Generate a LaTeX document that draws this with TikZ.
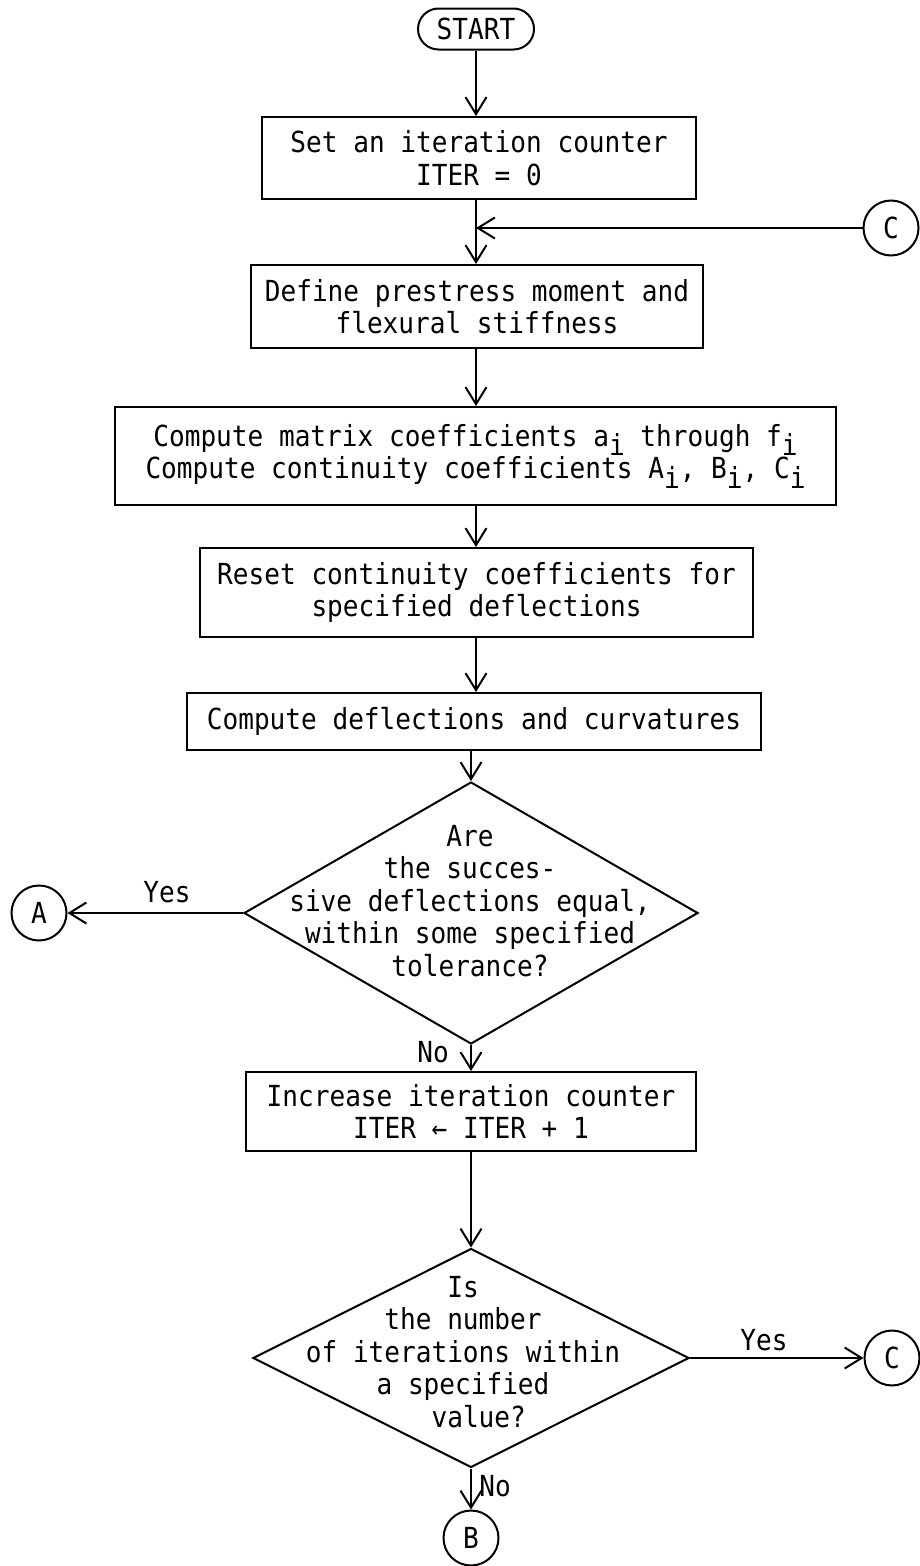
\documentclass[tikz,border=0pt]{standalone}
\usepackage{fontspec}
\setmonofont{DejaVu Sans Mono}[FakeStretch=0.9]
\usetikzlibrary{arrows.meta,shapes.geometric,shapes.misc}
% lowered index letter, typed as on a typewriter
\newcommand\lowi{\raisebox{-0.33em}{i}}
\begin{document}
\begin{tikzpicture}[x=1pt,y=-1pt,
  every node/.style={font={\ttfamily\fontsize{29}{32.4}\selectfont}, inner sep=0pt},
  proc/.style={draw, rectangle, line width=2pt, align=center},
  term/.style={draw, rounded rectangle, line width=2pt, minimum width=116pt, minimum height=41pt},
  decide/.style={draw, diamond, line width=2pt},
  conn/.style={draw, circle, line width=2pt, minimum size=55pt},
  flow/.style={line width=2pt, -{Straight Barb[length=17pt,width=21pt,line width=2pt]}},
]
\useasboundingbox (0,0) rectangle (919,1566);

% vertical guide line of the upper part of the flow
\coordinate (spine) at (476,0);

% ---- boxes ----
\node[term] (start) at (476,29) {START};
\node[proc, minimum width=434pt, minimum height=82pt] (init) at (479,158)
  {Set an iteration counter\\ITER = 0};
\node[conn] (cin) at (891,228) {C};
\node[proc, minimum width=452pt, minimum height=83pt] (prestress) at (477,306.5)
  {Define prestress moment and\\flexural stiffness};
\node[proc, minimum width=721pt, minimum height=98pt] (coef) at (475.5,456)
  {Compute matrix coefficients a\lowi{} through f\lowi\\Compute continuity coefficients A\lowi, B\lowi, C\lowi};
\node[proc, minimum width=553pt, minimum height=89pt] (reset) at (476.5,592.5)
  {Reset continuity coefficients for\\specified deflections};
\node[proc, minimum width=574pt, minimum height=57pt] (defl) at (474,721.5)
  {Compute deflections and curvatures};

% ---- convergence test ----
\node[decide, minimum width=454pt, minimum height=262pt] (conv) at (471,913) {};
\node[align=center] (convq) at (470,901)
  {Are\\the succes-\\sive deflections equal,\\within some specified\\tolerance?};
\node[conn] (ca) at (39,913) {A};
\node (yes1) at (167,892) {Yes};
\node (no1) at (433,1052) {No};

\node[proc, minimum width=450pt, minimum height=79pt] (incr) at (471,1111.5)
  {Increase iteration counter\\ITER ← ITER + 1};

% ---- iteration limit test ----
\node[decide, minimum width=436pt, minimum height=219pt] (limit) at (471,1358) {};
\node[align=center] (limitq) at (463,1352)
  {Is\\the number\\of iterations within\\a specified\\\hphantom{xx}value?};
\node[conn] (cout) at (892,1358) {C};
\node (yes2) at (764,1340) {Yes};
\node[conn] (cb) at (471,1538) {B};
\node (no2) at (495,1486) {No};

% ---- connectors ----
\draw[flow] (start.south -| spine) -- (init.north -| spine);
\draw[flow] (init.south -| spine) -- (prestress.north -| spine);
\draw[flow] (cin.west) -- (cin.west -| spine);
\draw[flow] (prestress.south -| spine) -- (coef.north -| spine);
\draw[flow] (coef.south -| spine) -- (reset.north -| spine);
\draw[flow] (reset.south -| spine) -- (defl.north -| spine);
\draw[flow] (defl.south -| conv.north) -- (conv.north);
\draw[flow] (conv.west) -- (ca.east);
\draw[flow] (conv.south) -- (incr.north -| conv.south);
\draw[flow] (incr.south -| limit.north) -- (limit.north);
\draw[flow] (limit.east) -- (cout.west);
\draw[flow] (limit.south) -- (cb.north);
\end{tikzpicture}
\end{document}
